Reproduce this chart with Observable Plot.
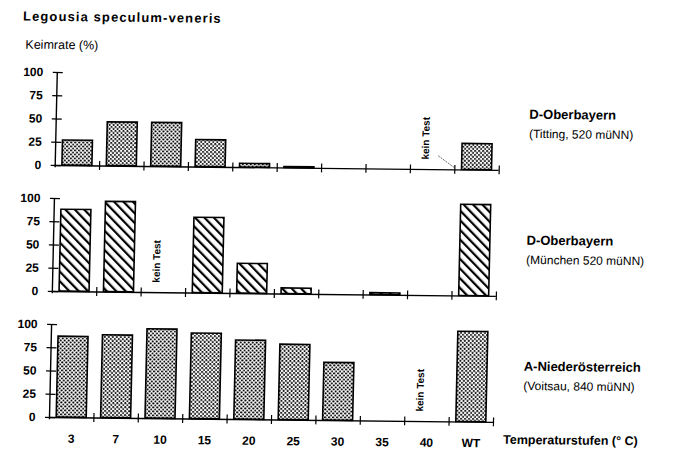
<!DOCTYPE html>
<html><head><meta charset="utf-8">
<script src="https://cdn.jsdelivr.net/npm/d3@7"></script>
<script src="https://cdn.jsdelivr.net/npm/@observablehq/plot@0.6"></script>
<style>
html,body{margin:0;padding:0;background:#fff;}
#wrap{position:relative;width:679px;height:455px;overflow:hidden;transform-origin:55px 240px;transform:matrix(1,0.011,-0.0226,1,0,0);font-family:"Liberation Sans",Arial,sans-serif;color:#000;}
#title{position:absolute;left:18px;top:10px;font-size:13px;line-height:13px;font-weight:bold;letter-spacing:1.1px;white-space:nowrap;}
#ylab{position:absolute;left:21px;top:39px;font-size:12.5px;line-height:12.5px;white-space:nowrap;}
#chart{position:absolute;left:0;top:0;}
g[aria-label="panel-title"] text{letter-spacing:0.5px;}
</style></head>
<body>
<svg width="0" height="0" style="position:absolute">
<defs>
<pattern id="dots" patternUnits="userSpaceOnUse" width="4" height="4"><circle cx="1" cy="1" r="1" fill="#000"/><circle cx="3" cy="3" r="1" fill="#000"/></pattern>
<pattern id="hatch" patternUnits="userSpaceOnUse" width="6.7" height="6.7" patternTransform="rotate(-45)"><rect x="0" y="0" width="2.2" height="6.7" fill="#000"/></pattern>
</defs></svg>
<div id="wrap"><div id="chart"></div><div id="title">Legousia speculum-veneris</div><div id="ylab">Keimrate (%)</div></div>
<script>
const categories = ["3","7","10","15","20","25","30","35","40","WT"];
const panelKeys = ["p1","p2","p3"];
const panelTitles = ["D-Oberbayern","D-Oberbayern","A-Niederösterreich"];
const panelSubtitles = ["(Titting, 520 müNN)","(München 520 müNN)","(Voitsau, 840 müNN)"];
const valuesTitting = [27,47,47,29,4,1,0,0,null,28];
const valuesMuenchen = [88,97,null,81,32,6,0,2,0,98];
const valuesVoitsau = [87,89,96,92,85,81,62,0,null,97];
const yTicks = [0,25,50,75,100];
const noteText = "kein Test";
const xTitle = "Temperaturstufen (° C)";

const series = [valuesTitting, valuesMuenchen, valuesVoitsau];
const rows = [];
const notes = [];
series.forEach((vals, p) => vals.forEach((v, i) => {
  if (v === null) notes.push({panel: panelKeys[p], pos: i, leader: p === 0});
  else if (v > 0) rows.push({panel: panelKeys[p], pos: i, cat: categories[i], value: v});
}));
const labels = panelKeys.map((k,i)=>({panel:k, title: panelTitles[i], sub: panelSubtitles[i]}));
const hatched = new Set(["p2"]);
const barOpts = {x1: d => d.pos, x2: d => d.pos + 1, y: "value", fy: "panel", stroke: "#000", strokeWidth: 1.6, insetLeft: 7.2, insetRight: 7.2};

const chart = Plot.plot({
  width: 679, height: 455,
  marginLeft: 53, marginRight: 182, marginTop: 70.7, marginBottom: 37,
  style: {fontFamily: '"Liberation Sans", Arial, sans-serif', fontSize: "12px", color: "#000", background: "transparent"},
  x: {domain: [0, categories.length]},
  y: {domain: [0, 100]},
  fy: {domain: panelKeys, paddingInner: 0.258, paddingOuter: 0, axis: null},
  marks: [
    Plot.rectY(rows.filter(d => !hatched.has(d.panel)), {...barOpts, fill: "url(#dots)"}),
    Plot.rectY(rows.filter(d => hatched.has(d.panel)), {...barOpts, fill: "url(#hatch)"}),
    Plot.ruleY([0], {stroke: "#000", strokeWidth: 1.4}),
    Plot.ruleX([0], {y1: -2.5, y2: 100, stroke: "#000", strokeWidth: 1.4}),
    Plot.ruleX(d3.range(1, categories.length + 1), {y1: -4.8, y2: 4.8, stroke: "#000", strokeWidth: 1.2}),
    Plot.axisY({ticks: yTicks, tickSize: 10, dx: 6, tickPadding: 10, fontWeight: "bold", fontSize: 12, label: null, strokeWidth: 1.3}),
    Plot.axisX({ticks: d3.range(categories.length).map(i => i + 0.5), tickFormat: v => categories[Math.floor(v)], tickSize: 0, tickPadding: 16.5, fontWeight: "bold", fontSize: 12, label: null}),
    Plot.text(notes, {x: d => d.pos + 0.5, fy: "panel", text: () => noteText, frameAnchor: "bottom", dy: -10, dx: -4, rotate: -90, textAnchor: "start", fontSize: 10, fontWeight: "bold"}),
    Plot.link(notes.filter(d => d.leader), {x1: d => d.pos + 0.62, x2: d => d.pos + 1, y1: 15, y2: 2, fy: "panel", stroke: "#444", strokeWidth: 0.8, strokeDasharray: "2,1"}),
    Plot.text(labels, {fy: "panel", text: "title", frameAnchor: "right", textAnchor: "start", dx: 29, dy: -9.7, fontWeight: "bold", fontSize: 13, ariaLabel: "panel-title"}),
    Plot.text(labels, {fy: "panel", text: "sub", frameAnchor: "right", textAnchor: "start", dx: 29, dy: 9.9, fontSize: 12}),
    Plot.text([{panel: "p3", t: xTitle}], {fy: "panel", text: "t", frameAnchor: "bottom-right", textAnchor: "start", dx: 10, dy: 21.3, fontSize: 12.5, fontWeight: "bold"})
  ]
});
document.getElementById("chart").appendChild(chart);
</script>
</body></html>
